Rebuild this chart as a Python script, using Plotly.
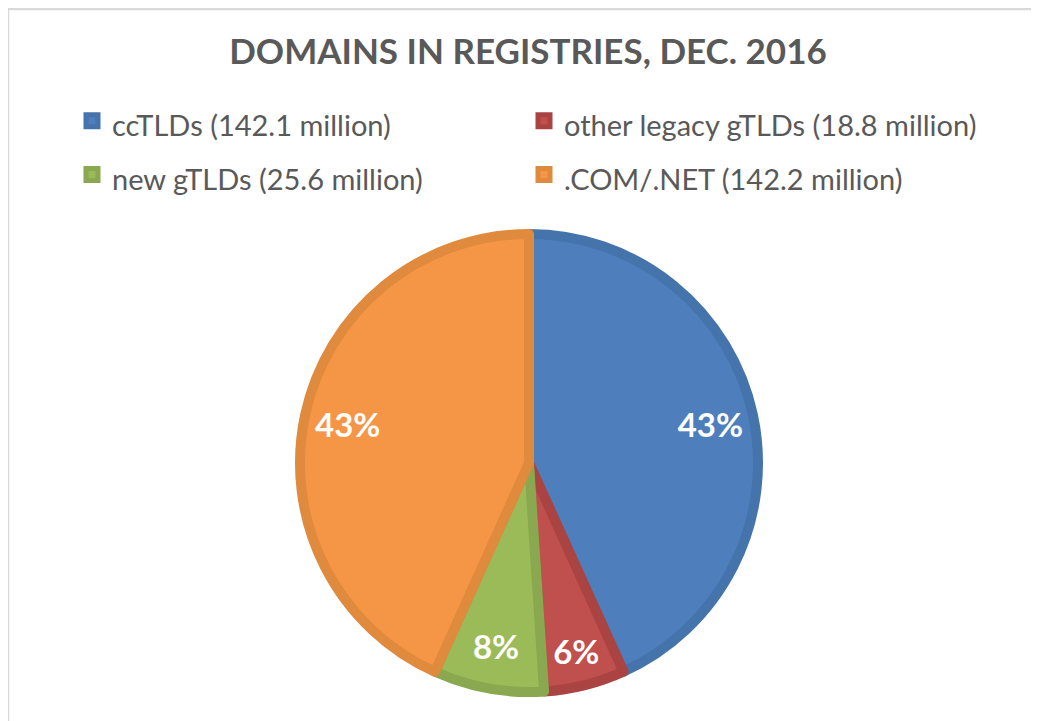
import plotly.graph_objects as go

# Domain counts per registry group, Dec. 2016 (millions)
labels = ['ccTLDs (142.1 million)', 'other legacy gTLDs (18.8 million)',
          'new gTLDs (25.6 million)', '.COM/.NET (142.2 million)']
values = [142.1, 18.8, 25.6, 142.2]
fill_colors = ['#4e7fbc', '#c0504d', '#9bbb59', '#f59646']
edge_colors = ['#4573ab', '#aa4442', '#8aa84f', '#e08a3d']

W, H = 1039, 721
OFF = 8  # the page puts the plot 8px in from the corner

# pie sits centred at (521, 455) in figure pixels
pie_dom = dict(x=[292 / W, 750 / W], y=[1 - 684 / H, 1 - 226 / H])

# legend font is set large so the rows get spaced out, text itself is smaller
legend_labels = ['<span style="font-size:29px">%s</span>' % s for s in labels]

fig = go.Figure()

# the visible pie
fig.add_trace(go.Pie(
    labels=legend_labels,
    values=values,
    sort=False,
    direction='clockwise',
    rotation=0,
    marker=dict(colors=fill_colors, line=dict(color=edge_colors, width=10)),
    textinfo='none',
    domain=pie_dom,
    hovertemplate='%{value} million<br>%{percent}<extra></extra>',
))

# transparent ring on top, only used to put the percent labels near the rim
fig.add_trace(go.Pie(
    labels=legend_labels,
    values=values,
    sort=False,
    direction='clockwise',
    rotation=0,
    hole=0.62,
    marker=dict(colors=['rgba(0,0,0,0)'] * 4, line=dict(width=0)),
    texttemplate='%{percent:.0%}',
    textposition='inside',
    insidetextorientation='horizontal',
    textfont=dict(family='Lato', size=33, color='white', weight='bold'),
    domain=pie_dom,
    showlegend=False,
    hoverinfo='skip',
))

# thin frame around the chart area
fig.add_shape(type='rect', xref='paper', yref='paper',
              x0=0, x1=1.05, y0=-0.05, y1=1 - 1 / H,
              line=dict(color='#d9d9d9', width=2.5), fillcolor='rgba(0,0,0,0)')

fig.update_layout(
    width=W, height=H,
    margin=dict(l=0, r=0, t=0, b=0),
    paper_bgcolor='white',
    title=dict(text='<b>DOMAINS IN REGISTRIES, DEC. 2016</b>',
               x=(528 - OFF) / W, xanchor='center', y=1 - (52 - OFF) / H, yanchor='middle',
               font=dict(family='Lato', size=35, color='#595959')),
    showlegend=True,
    legend=dict(orientation='h', x=(72 - OFF) / W, xanchor='left',
                y=1 - (89 - OFF) / H, yanchor='top',
                entrywidth=407, entrywidthmode='pixels',
                bgcolor='rgba(0,0,0,0)',
                font=dict(family='Lato', size=39, color='#595959'),
                traceorder='normal'),
)

fig.write_html("out.html")
